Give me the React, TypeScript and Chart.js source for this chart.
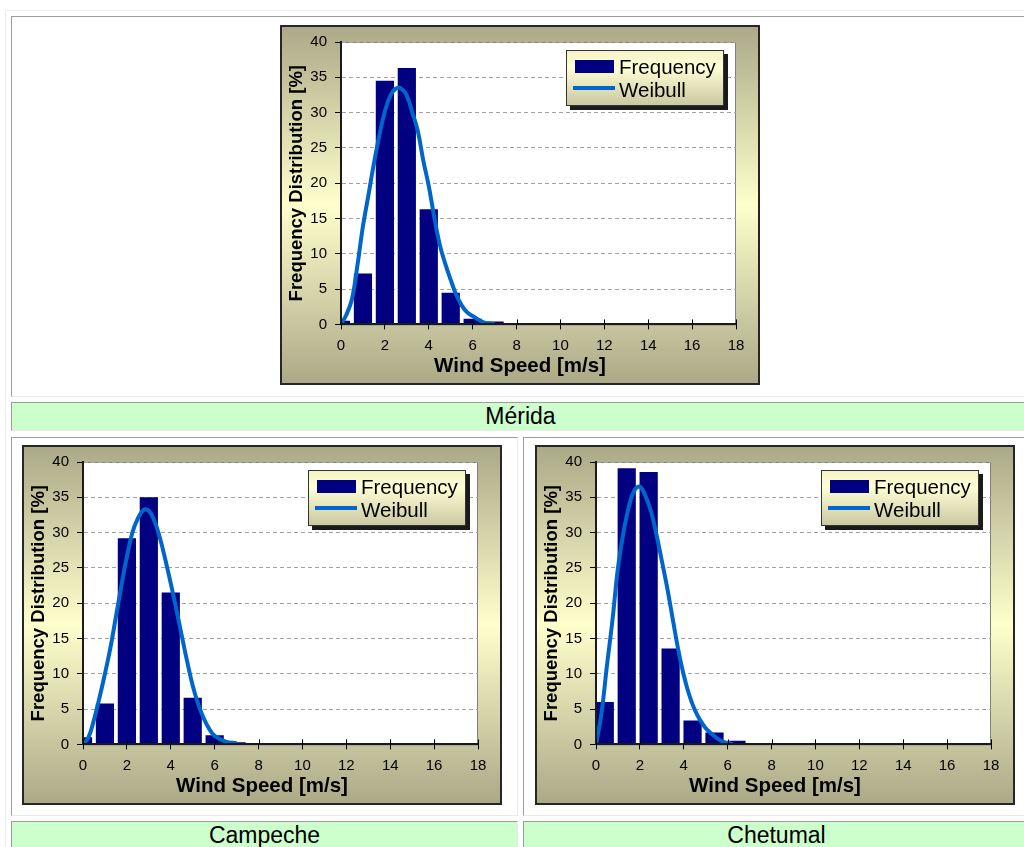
import React, { useEffect, useRef } from 'react';
import { Chart, registerables } from 'chart.js';

Chart.register(...registerables);

const FONT = "'Liberation Sans', Arial, Helvetica, sans-serif";

// ---- axis ticks & labels ----
const X_TICKS = [0, 2, 4, 6, 8, 10, 12, 14, 16, 18];
const Y_TICKS = [0, 5, 10, 15, 20, 25, 30, 35, 40];
const SERIES_NAMES = ['Frequency', 'Weibull'];
const X_TITLE = 'Wind Speed [m/s]';
const Y_TITLE = 'Frequency Distribution [%]';
const STATION_NAMES = ['Mérida', 'Campeche', 'Chetumal'];

// ---- Mérida ----
const meridaBinX = [0, 1, 2, 3, 4, 5, 6, 7];
const meridaFreq = [0.5, 7.2, 34.5, 36.3, 16.3, 4.5, 0.8, 0.4];
const meridaWeibullX = [0, 0.25, 0.5, 0.75, 1, 1.25, 1.5, 1.75, 2, 2.25, 2.5, 2.75, 3, 3.25, 3.5, 3.75, 4, 4.25, 4.5, 4.75, 5, 5.25, 5.5, 5.75, 6, 6.5, 7];
const meridaWeibullY = [0, 1.4, 3.6, 8.4, 13.9, 18.3, 22.8, 26.8, 30.2, 32.4, 33.4, 33.4, 32.4, 30.0, 27.4, 23.2, 19.6, 15.2, 11.3, 8.6, 6.3, 4.2, 2.7, 1.7, 1.2, 0.3, 0.1];

// ---- Campeche ----
const campecheBinX = [0, 1, 2, 3, 4, 5, 6, 7];
const campecheFreq = [1.0, 5.8, 29.2, 35.0, 21.5, 6.6, 1.3, 0.3];
const campecheWeibullX = [0, 0.25, 0.5, 0.75, 1, 1.25, 1.5, 1.75, 2, 2.25, 2.5, 2.75, 3, 3.25, 3.5, 3.75, 4, 4.25, 4.5, 4.75, 5, 5.25, 5.5, 5.75, 6, 6.5, 7];
const campecheWeibullY = [0, 1.0, 3.5, 6.6, 10.0, 13.7, 18.1, 22.5, 26.6, 30.0, 32.0, 33.2, 33.1, 31.7, 29.3, 26.2, 22.8, 19.2, 15.4, 11.7, 8.3, 5.7, 3.7, 2.2, 1.2, 0.4, 0.15];

// ---- Chetumal ----
const chetumalBinX = [0.4, 1.4, 2.4, 3.4, 4.4, 5.4, 6.4, 7.4];
const chetumalFreq = [6.0, 39.1, 38.6, 13.6, 3.4, 1.7, 0.5, 0.15];
const chetumalWeibullX = [0, 0.25, 0.5, 0.75, 1, 1.25, 1.5, 1.75, 2, 2.25, 2.5, 2.75, 3, 3.25, 3.5, 3.75, 4, 4.25, 4.5, 4.75, 5, 5.25, 5.5, 5.75, 6, 6.25];
const chetumalWeibullY = [0, 4.4, 11.2, 17.6, 25.0, 30.0, 33.7, 36.0, 36.5, 35.2, 33.1, 29.8, 26.0, 22.1, 17.7, 13.4, 9.8, 7.0, 4.9, 3.4, 2.3, 1.55, 0.9, 0.45, 0.2, 0.05];

const decorPlugin = {
  id: 'decor',
  beforeDraw(chart: any) {
    const { ctx, width, height, chartArea: a } = chart;
    ctx.save();
    const g = ctx.createLinearGradient(0, 0, 0, height);
    g.addColorStop(0, '#ABA887');
    g.addColorStop(0.5, '#FFFFCC');
    g.addColorStop(1, '#ABA887');
    ctx.fillStyle = g;
    ctx.fillRect(0, 0, width, height);
    ctx.lineWidth = 2;
    ctx.strokeStyle = '#262626';
    ctx.strokeRect(1, 1, width - 2, height - 2);
    ctx.fillStyle = '#FFFFFF';
    ctx.fillRect(a.left, a.top, a.right - a.left, a.bottom - a.top);
    ctx.lineWidth = 1;
    ctx.strokeStyle = '#808080';
    ctx.strokeRect(a.left + 0.5, a.top + 0.5, a.right - a.left - 1, a.bottom - a.top);
    ctx.restore();
  },
  afterDraw(chart: any) {
    const { ctx, chartArea: a } = chart;
    const xs = chart.scales.x;
    ctx.save();
    // inner half of the crossing x tick marks
    ctx.strokeStyle = '#000';
    ctx.lineWidth = 1;
    ctx.beginPath();
    xs.ticks.forEach((_t: any, i: number) => {
      const px = Math.round(xs.getPixelForTick(i)) + 0.5;
      ctx.moveTo(px, a.bottom - 5);
      ctx.lineTo(px, a.bottom);
    });
    ctx.stroke();

    // legend box
    const bw = 158, bh = 56;
    const bx = Math.round(a.right - 12 - bw);
    const by = Math.round(a.top + 8);
    ctx.fillStyle = '#1A1A1A';
    ctx.fillRect(bx + 4, by + 4, bw, bh);
    const lg = ctx.createLinearGradient(0, by, 0, by + bh);
    lg.addColorStop(0, '#F3F2C6');
    lg.addColorStop(0.3, '#FFFFD6');
    lg.addColorStop(1, '#C9C7A0');
    ctx.fillStyle = lg;
    ctx.fillRect(bx, by, bw, bh);
    ctx.strokeStyle = '#333';
    ctx.lineWidth = 1;
    ctx.strokeRect(bx + 0.5, by + 0.5, bw - 1, bh - 1);

    const ds = chart.data.datasets;
    ctx.fillStyle = ds[0].backgroundColor;
    ctx.fillRect(bx + 9, by + 10, 39, 13);
    ctx.strokeStyle = ds[1].borderColor;
    ctx.lineWidth = 4;
    ctx.beginPath();
    ctx.moveTo(bx + 7, by + 38);
    ctx.lineTo(bx + 49, by + 38);
    ctx.stroke();

    ctx.fillStyle = '#000';
    ctx.font = `20.5px ${FONT}`;
    ctx.textAlign = 'left';
    ctx.textBaseline = 'alphabetic';
    ctx.fillText(ds[0].label, bx + 53, by + 24);
    ctx.fillText(ds[1].label, bx + 53, by + 47);
    ctx.restore();
  },
};

function WindChart(props: { binX: number[]; freq: number[]; wx: number[]; wy: number[] }) {
  const ref = useRef<HTMLCanvasElement | null>(null);
  useEffect(() => {
    const { binX, freq, wx, wy } = props;
    const chart = new Chart(ref.current as HTMLCanvasElement, {
      type: 'bar',
      data: {
        datasets: [
          {
            type: 'bar',
            label: SERIES_NAMES[0],
            data: binX.map((x, i) => ({ x, y: freq[i] })),
            backgroundColor: '#000080',
            borderWidth: 0,
            barPercentage: 0.83,
            categoryPercentage: 1,
            clip: 0,
            order: 2,
          } as any,
          {
            type: 'line',
            label: SERIES_NAMES[1],
            data: wx.map((x, i) => ({ x, y: wy[i] })),
            borderColor: '#0066CC',
            borderWidth: 4,
            pointRadius: 0,
            tension: 0.4,
            fill: false,
            order: 1,
          } as any,
        ],
      },
      options: {
        responsive: false,
        animation: false,
        events: [],
        layout: { padding: { top: 15, left: 0, right: 0, bottom: 0 } },
        scales: {
          x: {
            type: 'linear',
            min: 0,
            max: 18,
            offset: false,
            afterBuildTicks: (s: any) => {
              s.ticks = X_TICKS.map((v) => ({ value: v }));
            },
            ticks: { font: { family: FONT, size: 15 }, color: '#000', padding: 7, maxRotation: 0, autoSkip: false },
            grid: { display: true, drawOnChartArea: false, drawTicks: true, tickLength: 5, tickColor: '#000', tickWidth: 1, offset: false },
            border: { display: true, color: '#1A1A1A', width: 2, z: 1 },
            afterFit: (s: any) => {
              s.height = 30;
            },
          },
          y: {
            type: 'linear',
            min: 0,
            max: 40,
            afterBuildTicks: (s: any) => {
              s.ticks = Y_TICKS.map((v) => ({ value: v }));
            },
            ticks: { font: { family: FONT, size: 15 }, color: '#000', padding: 8 },
            grid: {
              color: (c: any) => (c.tick && c.tick.value === 0 ? 'rgba(0,0,0,0)' : '#A3A3A3'),
              lineWidth: 1,
              drawTicks: true,
              tickLength: 6,
              tickColor: '#000',
              tickWidth: 1,
            },
            border: { display: true, color: '#1A1A1A', width: 2, dash: [4, 3], z: 1 },
            title: {
              display: true,
              text: Y_TITLE,
              color: '#000',
              font: { family: FONT, size: 18.5, weight: 'bold' },
              padding: { top: 6, bottom: 0 },
            },
            afterFit: (s: any) => {
              s.width = 61;
            },
          },
          yr: {
            type: 'linear',
            position: 'right',
            display: true,
            min: 0,
            max: 40,
            grid: { display: false },
            ticks: { display: false },
            border: { display: false },
            afterFit: (s: any) => {
              s.width = 24;
            },
          },
        },
        plugins: {
          legend: { display: false },
          tooltip: { enabled: false },
          title: {
            display: true,
            position: 'bottom',
            text: X_TITLE,
            color: '#000',
            font: { family: FONT, size: 20.5, weight: 'bold' },
            padding: { top: 0, bottom: 6 },
          },
        },
      } as any,
      plugins: [decorPlugin],
    });
    return () => chart.destroy();
  }, []);
  return <canvas ref={ref} width={480} height={360} style={{ display: 'block', width: 480, height: 360 }} />;
}

const cellBase: React.CSSProperties = {
  position: 'absolute',
  boxSizing: 'border-box',
  borderTop: '1px solid #9C9C9C',
  borderLeft: '1px solid #9C9C9C',
  borderRight: '1px solid #EBEBEB',
  borderBottom: '1px solid #EBEBEB',
};

const bandBase: React.CSSProperties = {
  ...cellBase,
  background: '#CCFFCC',
  textAlign: 'center',
  fontFamily: FONT,
  fontSize: 23,
  lineHeight: '27px',
  color: '#000',
  whiteSpace: 'nowrap',
};

export default function App() {
  return (
    <div style={{ position: 'fixed', left: 0, top: 0, width: 1024, height: 847, overflow: 'hidden', background: '#fff' }}>
      <div style={{ position: 'absolute', left: 5, top: 10, width: 1100, height: 900, borderTop: '1px solid #EDEDED', borderLeft: '1px solid #EDEDED' }} />
      <div style={{ ...cellBase, left: 11, top: 16, width: 1019, height: 381 }} />
      <div style={{ ...bandBase, left: 11, top: 402, width: 1019, height: 29 }}>{STATION_NAMES[0]}</div>
      <div style={{ ...cellBase, left: 11, top: 437, width: 507, height: 379 }} />
      <div style={{ ...cellBase, left: 523, top: 437, width: 507, height: 379 }} />
      <div style={{ ...bandBase, left: 11, top: 821, width: 507, height: 29 }}>{STATION_NAMES[1]}</div>
      <div style={{ ...bandBase, left: 523, top: 821, width: 507, height: 29 }}>{STATION_NAMES[2]}</div>

      <div style={{ position: 'absolute', left: 280, top: 25 }}>
        <WindChart binX={meridaBinX} freq={meridaFreq} wx={meridaWeibullX} wy={meridaWeibullY} />
      </div>
      <div style={{ position: 'absolute', left: 22, top: 445 }}>
        <WindChart binX={campecheBinX} freq={campecheFreq} wx={campecheWeibullX} wy={campecheWeibullY} />
      </div>
      <div style={{ position: 'absolute', left: 535, top: 445 }}>
        <WindChart binX={chetumalBinX} freq={chetumalFreq} wx={chetumalWeibullX} wy={chetumalWeibullY} />
      </div>
    </div>
  );
}
